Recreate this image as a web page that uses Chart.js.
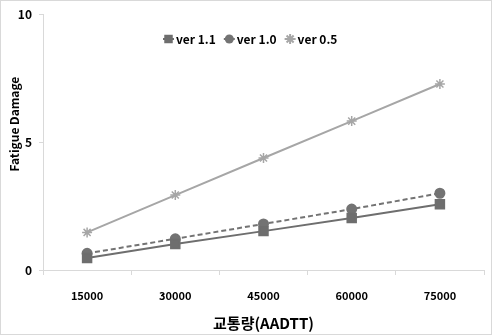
<!DOCTYPE html>
<html>
<head>
<meta charset="utf-8">
<script src="https://cdn.jsdelivr.net/npm/chart.js@4"></script>
<style>
    html, body { margin: 0; padding: 0; background: #fff; }
    canvas { display: block; }
</style>
</head>
<body>
<canvas id="damageChart" width="492" height="335"></canvas>
<script>
const categories = ['15000', '30000', '45000', '60000', '75000'];
const ver11 = [0.47, 1.02, 1.52, 2.03, 2.57];
const ver10 = [0.65, 1.22, 1.8, 2.38, 3.0];
const ver05 = [1.47, 2.93, 4.38, 5.82, 7.27];
const yTicks = [0, 5, 10];

const FONT = "'Noto Sans CJK KR', 'Noto Sans', sans-serif";

// marker drawing for the legend
function drawMarker(ctx, style, x, y, r) {
    ctx.beginPath();
    if (style === 'rect') {
        const s = r * Math.SQRT1_2;
        ctx.rect(x - s, y - s, 2 * s, 2 * s);
        ctx.fill();
    } else if (style === 'circle') {
        ctx.arc(x, y, r, 0, Math.PI * 2);
        ctx.fill();
    } else {
        for (let i = 0; i < 4; i++) {
            const a = i * Math.PI / 4;
            ctx.moveTo(x - Math.cos(a) * r, y - Math.sin(a) * r);
            ctx.lineTo(x + Math.cos(a) * r, y + Math.sin(a) * r);
        }
        ctx.stroke();
    }
}

const legendPlugin = {
    id: 'topLegend',
    afterDraw(chart) {
        const ctx = chart.ctx;
        ctx.save();
        ctx.font = 'bold 12px ' + FONT;
        ctx.textBaseline = 'middle';
        let x = 163;
        const y = 39;
        chart.data.datasets.forEach(ds => {
            ctx.strokeStyle = ds.borderColor;
            ctx.fillStyle = ds.borderColor;
            ctx.lineWidth = 2;
            ctx.setLineDash([]);
            ctx.beginPath();
            ctx.moveTo(x, y);
            ctx.lineTo(x + 11, y);
            ctx.stroke();
            drawMarker(ctx, ds.pointStyle, x + 5.5, y, ds.pointRadius);
            ctx.fillStyle = '#000';
            ctx.fillText(ds.label, x + 13, y);
            x += 13 + ctx.measureText(ds.label).width + 8;
        });
        ctx.restore();
    }
};

const framePlugin = {
    id: 'frame',
    beforeDraw(chart) {
        const ctx = chart.ctx;
        ctx.save();
        ctx.fillStyle = '#fff';
        ctx.fillRect(0, 0, chart.width, chart.height);
        ctx.strokeStyle = '#d9d9d9';
        ctx.lineWidth = 1;
        ctx.strokeRect(0.5, 0.5, chart.width - 1, chart.height - 1);
        ctx.restore();
    }
};

document.addEventListener('DOMContentLoaded', function() {
    const ctx = document.getElementById('damageChart').getContext('2d');
    new Chart(ctx, {
        type: 'line',
        data: {
            labels: categories,
            datasets: [{
                label: 'ver 1.1',
                data: ver11,
                borderColor: '#6e6e6e',
                backgroundColor: '#6e6e6e',
                borderWidth: 2,
                pointStyle: 'rect',
                pointRadius: 6,
                tension: 0
            }, {
                label: 'ver 1.0',
                data: ver10,
                borderColor: '#737373',
                backgroundColor: '#737373',
                borderWidth: 2,
                borderDash: [5, 3],
                pointStyle: 'circle',
                pointRadius: 4.5,
                tension: 0
            }, {
                label: 'ver 0.5',
                data: ver05,
                borderColor: '#a6a6a6',
                backgroundColor: '#a6a6a6',
                borderWidth: 2,
                pointStyle: 'star',
                pointRadius: 5,
                pointBorderWidth: 1.5,
                tension: 0
            }]
        },
        options: {
            responsive: false,
            animation: false,
            devicePixelRatio: 1,
            layout: { padding: { left: 0, top: 14, right: 0, bottom: 2 } },
            plugins: {
                legend: { display: false },
                tooltip: { enabled: false }
            },
            scales: {
                x: {
                    offset: true,
                    grid: { offset: true, drawOnChartArea: false, tickLength: 5, color: '#d9d9d9' },
                    border: { color: '#d9d9d9' },
                    ticks: { color: '#000', font: { family: FONT, size: 11, weight: 'bold' }, padding: 14, maxRotation: 0 },
                    title: {
                        display: true,
                        text: '교통량(AADTT)',
                        color: '#000',
                        font: { family: FONT, size: 15, weight: 'bold' },
                        padding: { top: 2, bottom: 1 }
                    },
                    afterFit: s => { s.height = 63; }
                },
                y: {
                    min: 0,
                    max: 10,
                    afterBuildTicks: s => { s.ticks = yTicks.map(v => ({ value: v })); },
                    grid: { drawOnChartArea: false, tickLength: 4, color: '#d9d9d9' },
                    border: { color: '#d9d9d9' },
                    ticks: { color: '#000', font: { family: FONT, size: 12, weight: 'bold' }, padding: 7 },
                    title: {
                        display: true,
                        // leading em spaces lift the rotated title a little, as in the original
                        text: '\u2003\u2003\u2003Fatigue Damage',
                        color: '#000',
                        font: { family: FONT, size: 12, weight: 'bold' },
                        padding: { top: 7, bottom: 0 }
                    },
                    afterFit: s => { s.width = 43; }
                }
            }
        },
        plugins: [framePlugin, legendPlugin]
    });
});
</script>
</body>
</html>
